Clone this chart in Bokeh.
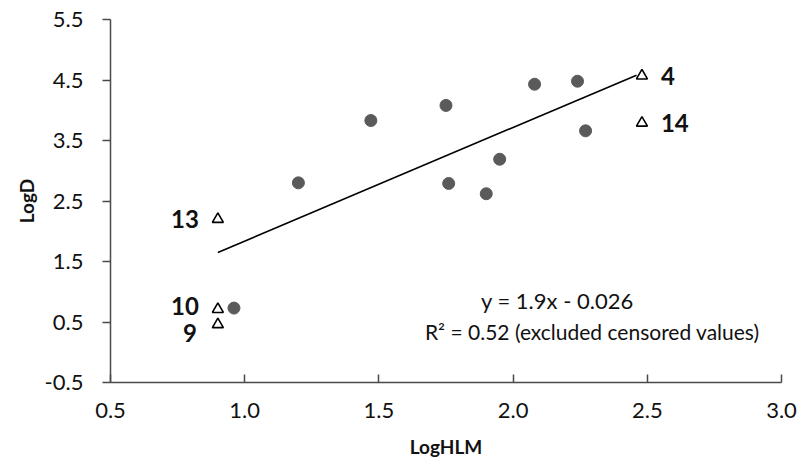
from bokeh.plotting import figure
from bokeh.models import ColumnDataSource, Range1d, Label, FixedTicker
from bokeh.core.properties import value
from bokeh.embed import file_html
from bokeh.resources import INLINE

# Measured (non-censored) compounds
meas_x = [0.96, 1.20, 1.47, 1.75, 1.76, 1.90, 1.95, 2.08, 2.24, 2.27]
meas_y = [0.73, 2.80, 3.83, 4.08, 2.79, 2.62, 3.19, 4.43, 4.48, 3.66]

# Censored compounds (triangles) with their labels
cens_x = [0.90, 0.90, 0.90, 2.48, 2.48]
cens_y = [2.20, 0.71, 0.46, 4.57, 3.79]
cens_label = ["13", "10", "9", "4", "14"]

# Trend line end points as drawn
trend_x = [0.90, 2.46]
trend_y = [1.65, 4.58]

x_ticks = [0.5, 1.0, 1.5, 2.0, 2.5, 3.0]
y_ticks = [-0.5, 0.5, 1.5, 2.5, 3.5, 4.5, 5.5]

eq_text = "y = 1.9x - 0.026"
r2_text = "R\u00b2 = 0.52 (excluded censored values)"

FONT = "Lato"
AX = "#4a4a4a"
TXT = "#111111"

p = figure(width=800, height=468, output_backend="svg", toolbar_location=None,
           x_range=Range1d(0.5, 3.0), y_range=Range1d(-0.5, 5.5),
           min_border_left=110, min_border_right=19, min_border_top=19,
           min_border_bottom=86)
p.outline_line_color = None
p.grid.grid_line_color = None
p.background_fill_color = "white"

for ax in (p.xaxis[0], p.yaxis[0]):
    ax.axis_line_color = AX
    ax.axis_line_width = 1.5
    ax.major_tick_line_color = AX
    ax.major_tick_line_width = 1.5
    ax.minor_tick_line_color = None
    ax.major_label_text_font = FONT
    ax.major_label_text_font_size = "22px"
    ax.major_label_text_color = TXT
    ax.axis_label_text_font = FONT
    ax.axis_label_text_font_size = "19px"
    ax.axis_label_text_font_style = "bold"
    ax.axis_label_text_color = TXT

p.xaxis.ticker = FixedTicker(ticks=x_ticks)
p.yaxis.ticker = FixedTicker(ticks=y_ticks)
p.xaxis.major_label_overrides = {t: f"{t:.1f}" for t in x_ticks}
p.yaxis.major_label_overrides = {t: f"{t:.1f}" for t in y_ticks}
p.xaxis.major_tick_in = 8
p.xaxis.major_tick_out = 0
p.yaxis.major_tick_in = 0
p.yaxis.major_tick_out = 8
p.xaxis.major_label_standoff = 20
p.yaxis.major_label_standoff = 19
p.xaxis.axis_label = "LogHLM"
p.yaxis.axis_label = "LogD"
p.xaxis.axis_label_standoff = 14
p.yaxis.axis_label_standoff = 4

p.line(trend_x, trend_y, line_color="black", line_width=1.6)

p.scatter(meas_x, meas_y, marker="circle", size=12,
          fill_color="#5a5a5a", line_color="#5a5a5a")

# label offsets (style only)
x_off = [-19, -19, -21, 19, 19]
y_off = [0, -3, 9, 0, 0]
align = ["right", "right", "right", "left", "left"]
src = ColumnDataSource(dict(x=cens_x, y=cens_y, t=cens_label,
                            xo=x_off, yo=y_off, al=align))
p.scatter("x", "y", source=src, marker="triangle", size=11,
          fill_color="white", line_color="black", line_width=1.6)
p.text("x", "y", text="t", source=src, x_offset="xo", y_offset="yo",
       text_align="al", text_baseline="middle",
       text_font=value(FONT), text_font_style="bold",
       text_font_size="24px", text_color=TXT)

p.add_layout(Label(x=2.165, y=0.85, text=eq_text, text_align="center",
                   text_baseline="middle", text_font=FONT,
                   text_font_size="22px", text_color=TXT))
p.add_layout(Label(x=2.295, y=0.35, text=r2_text, text_align="center",
                   text_baseline="middle", text_font=FONT,
                   text_font_size="21px", text_color=TXT))

open("out.html", "w").write(file_html(p, INLINE))
